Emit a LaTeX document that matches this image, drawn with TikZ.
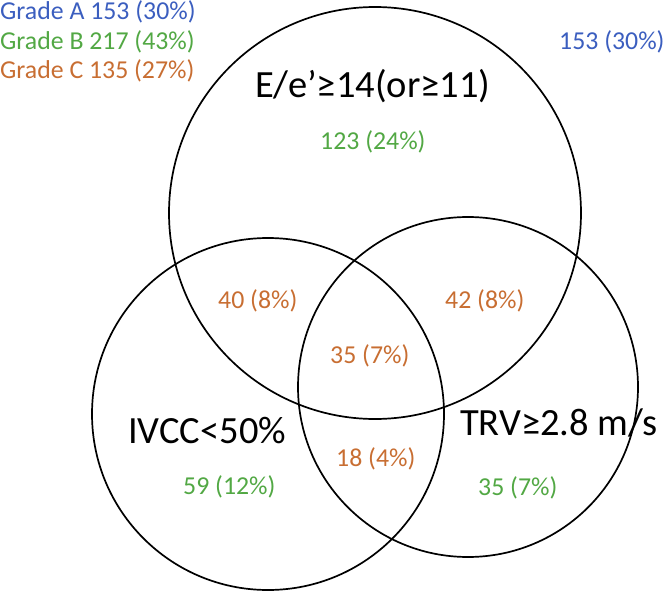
\documentclass[tikz,border=0pt]{standalone}
\usepackage{fontspec}
\setmainfont{Carlito}
\definecolor{GradeA}{HTML}{3B5EBF}
\definecolor{GradeB}{HTML}{52A844}
\definecolor{GradeC}{HTML}{C86E32}

\begin{document}
\begin{tikzpicture}[x=1pt,y=-1pt,
    venn/.style={draw,circle,line width=1.7pt,inner sep=0pt},
    big/.style={font=\fontsize{38.5}{42}\selectfont,inner sep=0pt,anchor=base west},
    num/.style={font=\fontsize{25.8}{28}\selectfont,inner sep=0pt,anchor=base west}]
        \useasboundingbox (0,0) rectangle (664,594);
        % the three sets
        \node[venn,minimum size=412pt] (ee) at (375,213) {};
        \node[venn,minimum size=352pt] (ivcc) at (268,414) {};
        \node[venn,minimum size=340pt] (trv) at (468,387) {};
        % legend
        \node[num,GradeA] (ga) at (0,20) {Grade A 153 (30\%)};
        \node[num,GradeB] (gb) at (0,49) {Grade B 217 (43\%)};
        \node[num,GradeC] (gc) at (0,78) {Grade C 135 (27\%)};
        \node[num,GradeA] (outside) at (559,50) {153 (30\%)};
        % set names
        \node[big] (eelab) at (255,97) {E/e’≥14(or≥11)};
        \node[big] (ivcclab) at (128,443) {IVCC<50\%};
        \node[big] (trvlab) at (460,435) {TRV≥2.8 m/s};
        % region counts
        \node[num,GradeB] (onlyee) at (320,149) {123 (24\%)};
        \node[num,GradeC] (eeivcc) at (218,308) {40 (8\%)};
        \node[num,GradeC] (eetrv) at (445,308) {42 (8\%)};
        \node[num,GradeC] (all) at (330,363) {35 (7\%)};
        \node[num,GradeC] (ivcctrv) at (336,466) {18 (4\%)};
        \node[num,GradeB] (onlyivcc) at (183,494) {59 (12\%)};
        \node[num,GradeB] (onlytrv) at (478,495) {35 (7\%)};
      \end{tikzpicture}
\end{document}
